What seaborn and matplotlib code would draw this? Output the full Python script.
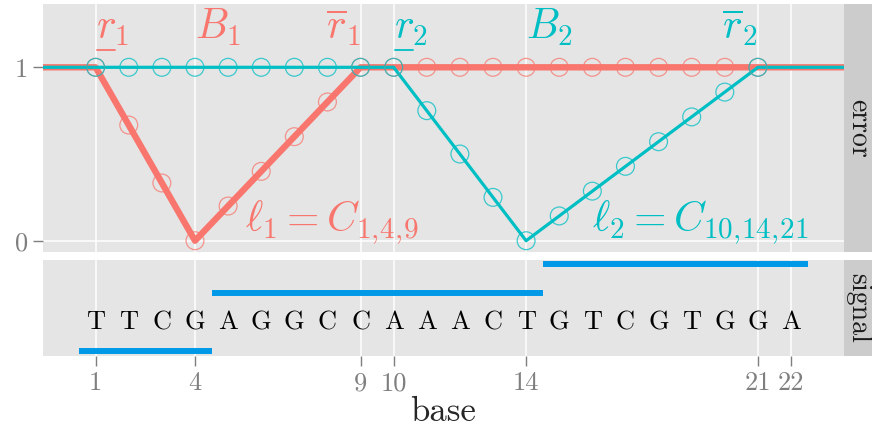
import matplotlib
matplotlib.use("Agg")
import matplotlib.pyplot as plt
from matplotlib.lines import Line2D
from matplotlib.transforms import IdentityTransform
import seaborn as sns

# --- data ---
bases = list(range(1, 23))
sequence = list("TTCGAGGCCAAACTGTCGTGGA")

# error of the two segmentation models at each base
err_bases = list(range(1, 22))
err_model1 = [1, 0.667, 0.333, 0, 0.2, 0.4, 0.6, 0.8, 1, 1, 1,
              1, 1, 1, 1, 1, 1, 1, 1, 1, 1]
err_model2 = [1, 1, 1, 1, 1, 1, 1, 1, 1, 1, 0.75,
              0.5, 0.25, 0, 0.143, 0.286, 0.429, 0.571, 0.714, 0.857, 1]

# piecewise linear error curves (knots)
curve1_x = [-1, 1, 4, 9, 24]
curve1_y = [1, 1, 0, 1, 1]
curve2_x = [-1, 10, 14, 21, 24]
curve2_y = [1, 1, 0, 1, 1]

label_x = [1, 4, 9, 10, 14, 21]
label_text = [r"$r_1$", r"$B_1$", r"$\overline{r}_1$",
              r"$r_2$", r"$B_2$", r"$\overline{r}_2$"]
label_under = [True, False, False, True, False, False]
label_model = [0, 0, 0, 1, 1, 1]
label_ha = ["left", "left", "right", "left", "left", "right"]
label_y = 1.165

region_x = [5.5, 16]
region_text = [r"$\ell_1 = C_{1,\!4,\!9}$", r"$\ell_2 = C_{10,\!14,\!21}$"]

# segment means of the signal
seg_start = [0.5, 4.5, 14.5]
seg_end = [4.5, 14.5, 22.5]
seg_level = [-1, 1, 2]

xticks = [1, 4, 9, 10, 14, 21, 22]

RED = "#F8766D"
CYAN = "#00BFC4"
BLUE = "#0099E8"
GREY = "#7F7F7F"
colors = [RED, CYAN]

sns.set_style("darkgrid", {"axes.facecolor": "#E5E5E5", "grid.color": "white"})
plt.rcParams["font.family"] = ["cmr10"]
plt.rcParams["mathtext.fontset"] = "cm"
plt.rcParams["axes.unicode_minus"] = False
plt.rcParams["axes.formatter.use_mathtext"] = True

W, H = 872, 430
fig = plt.figure(figsize=(W / 100, H / 100), dpi=100)

def px_axes(x0, y0, x1, y1):
    return fig.add_axes([x0 / W, 1 - y1 / H, (x1 - x0) / W, (y1 - y0) / H])

ax_err = px_axes(43, 4, 844, 252)
ax_sig = px_axes(43, 260, 844, 356)
xlim = (-0.59, 23.6)

# --- error panel ---
sns.lineplot(x=curve1_x, y=curve1_y, color=RED, lw=4.6, estimator=None, ax=ax_err)
sns.lineplot(x=curve2_x, y=curve2_y, color=CYAN, lw=2.3, estimator=None, ax=ax_err)
for yv, c in zip([err_model1, err_model2], colors):
    sns.scatterplot(x=err_bases, y=yv, color=c, facecolors="none", edgecolor=c,
                    s=165, linewidth=0.9, alpha=0.75, ax=ax_err, zorder=3)

ax_err.set_xlim(*xlim)
ax_err.set_ylim(-0.065, 1.365)

under_marks = []
for x, t, m, ha, u in zip(label_x, label_text, label_model, label_ha, label_under):
    ax_err.text(x, label_y, t, color=colors[m], ha=ha, va="baseline", fontsize=30)
    if u:
        # invisible copy of the main letter, used to size the underline
        ph = ax_err.text(x, label_y, r"$r$", ha=ha, va="baseline", fontsize=30, alpha=0)
        under_marks.append((ph, x, colors[m]))
for x, t, c in zip(region_x, region_text, colors):
    ax_err.text(x, 0.056, t, color=c, ha="left", va="baseline", fontsize=30)

ax_err.set_xticks(xticks)
ax_err.set_yticks([0, 1])
ax_err.set_yticklabels(["0", "1"])
ax_err.tick_params(axis="x", length=0, bottom=False, labelbottom=False)
ax_err.tick_params(axis="y", left=True, length=7, width=1.0, color=GREY,
                   labelcolor=GREY, labelsize=19, pad=4)
ax_err.set_xlabel("")
ax_err.set_ylabel("")

# --- signal panel ---
for b, ch in zip(bases, sequence):
    ax_sig.text(b, 0, ch, ha="center", va="center", fontsize=19, color="black")
ax_sig.hlines(seg_level, seg_start, seg_end, color=BLUE, lw=4.3)
ax_sig.set_xlim(*xlim)
ax_sig.set_ylim(-1.173, 2.156)
ax_sig.set_xticks(xticks)
ax_sig.set_xticklabels([str(v) for v in xticks])
ax_sig.set_yticks([])
ax_sig.tick_params(axis="x", bottom=True, length=7, width=1.0, color=GREY,
                   labelcolor=GREY, labelsize=19, pad=4)
ax_sig.set_xlabel("base", fontsize=25, labelpad=1)

for ax in (ax_err, ax_sig):
    ax.grid(True, color="white", lw=1.1)
    for s in ax.spines.values():
        s.set_visible(False)

# --- facet strips ---
for (y0, y1), name in zip([(4, 252), (260, 356)], ["error", "signal"]):
    st = px_axes(844, y0, 872, y1)
    st.set_facecolor("#CCCCCC")
    st.set_xticks([])
    st.set_yticks([])
    st.grid(False)
    for s in st.spines.values():
        s.set_visible(False)
    st.text(0.5, 0.5, name, rotation=270, ha="center", va="center",
            fontsize=20, color="#1A1A1A", transform=st.transAxes)

# underlines for the lower segment ends, just under the subscript
fig.canvas.draw()
renderer = fig.canvas.get_renderer()
for ph, x, c in under_marks:
    bb = ph.get_window_extent(renderer)
    base_y = ax_err.transData.transform((x, label_y))[1]
    yline = base_y - 11
    fig.add_artist(Line2D([bb.x0 + 1, bb.x1 - 1], [yline, yline], color=c,
                          lw=1.3, transform=IdentityTransform()))

fig.savefig("out.png", dpi=100)
